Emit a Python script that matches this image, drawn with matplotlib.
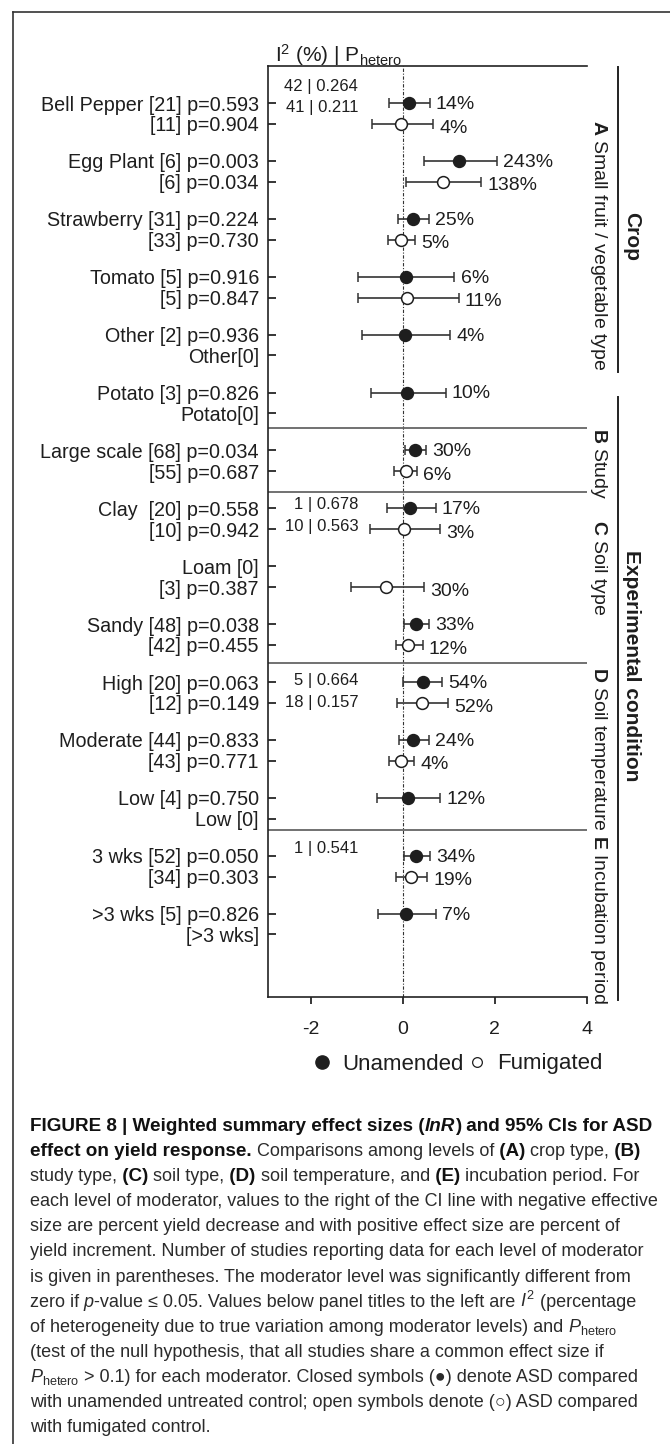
import matplotlib
matplotlib.use('Agg')
import matplotlib.pyplot as plt
from matplotlib.lines import Line2D
import numpy as np

plt.rcParams['font.family'] = ['Liberation Sans', 'DejaVu Sans']
plt.rcParams['mathtext.fontset'] = 'custom'
plt.rcParams['mathtext.rm'] = 'Liberation Sans'
plt.rcParams['mathtext.it'] = 'Liberation Sans:italic'
plt.rcParams['mathtext.bf'] = 'Liberation Sans:bold'
plt.rcParams['mathtext.default'] = 'regular'

# moderator rows, two per level (unamended first, fumigated second)
labels = ['Bell Pepper [21] p=0.593', '[11] p=0.904',
          'Egg Plant [6] p=0.003', '[6] p=0.034',
          'Strawberry [31] p=0.224', '[33] p=0.730',
          'Tomato [5] p=0.916', '[5] p=0.847',
          'Other [2] p=0.936', 'Other[0]',
          'Potato [3] p=0.826', 'Potato[0]',
          'Large scale [68] p=0.034', '[55] p=0.687',
          'Clay  [20] p=0.558', '[10] p=0.942',
          'Loam [0]', '[3] p=0.387',
          'Sandy [48] p=0.038', '[42] p=0.455',
          'High [20] p=0.063', '[12] p=0.149',
          'Moderate [44] p=0.833', '[43] p=0.771',
          'Low [4] p=0.750', 'Low [0]',
          '3 wks [52] p=0.050', '[34] p=0.303',
          '>3 wks [5] p=0.826', '[>3 wks]']

nan = np.nan
# ASD vs unamended control (lnR, 95% CI)
unam_mean = [0.13, 1.23, 0.22, 0.06, 0.04, 0.095, 0.26, 0.157, nan, 0.285,
             0.43, 0.215, 0.113, 0.29, 0.068]
unam_lo = [-0.31, 0.46, -0.10, -0.98, -0.89, -0.70, 0.04, -0.35, nan, 0.02,
           0.01, -0.08, -0.56, 0.02, -0.54]
unam_hi = [0.58, 2.05, 0.56, 1.12, 1.02, 0.93, 0.51, 0.71, nan, 0.56,
           0.85, 0.56, 0.81, 0.58, 0.72]
unam_pct = ['14%', '243%', '25%', '6%', '4%', '10%', '30%', '17%', '', '33%',
            '54%', '24%', '12%', '34%', '7%']

# ASD vs fumigated control
fum_mean = [-0.04, 0.87, -0.05, 0.10, nan, nan, 0.06, 0.03, -0.36, 0.11,
            0.42, -0.04, nan, 0.17, nan]
fum_lo = [-0.66, 0.07, -0.33, -0.97, nan, nan, -0.20, -0.72, -1.13, -0.16,
          -0.12, -0.30, nan, -0.15, nan]
fum_hi = [0.65, 1.70, 0.26, 1.21, nan, nan, 0.30, 0.81, 0.46, 0.43,
          0.98, 0.25, nan, 0.52, nan]
fum_pct = ['4%', '138%', '5%', '11%', '', '', '6%', '3%', '30%', '12%',
           '52%', '4%', '', '19%', '']

# I2 | P_hetero per moderator
het_text = ['42 | 0.264', '41 | 0.211', '1 | 0.678', '10 | 0.563',
            '5 | 0.664', '18 | 0.157', '1 | 0.541']

xticks = [-2, 0, 2, 4]

panel_titles = [r'$\mathbf{A}$ Small fruit / vegetable type', r'$\mathbf{B}$ Study',
                r'$\mathbf{C}$ Soil type', r'$\mathbf{D}$ Soil temperature',
                r'$\mathbf{E}$ Incubation period']
groups = ['Crop', 'Experimental condition']

caption = [
    [('FIGURE 8 | Weighted summary effect sizes (', 'b'), ('lnR', 'bi'), (')', 'b'),
     (' and 95% CIs for ASD', 'b')],
    [('effect on yield response.', 'b'), (' Comparisons among levels of', 'r'),
     (' (A)', 'b'), (' crop type,', 'r'), (' (B)', 'b')],
    [('study type,', 'r'), (' (C)', 'b'), (' soil type,', 'r'), (' (D)', 'b'),
     (' soil temperature, and', 'r'), (' (E)', 'b'), (' incubation period. For', 'r')],
    [('each level of moderator, values to the right of the CI line with negative effective', 'r')],
    [('size are percent yield decrease and with positive effect size are percent of', 'r')],
    [('yield increment. Number of studies reporting data for each level of moderator', 'r')],
    [('is given in parentheses. The moderator level was significantly different from', 'r')],
    [('zero if', 'r'), (' p', 'i'), ('-value \u2264 0.05. Values below panel titles to the left are', 'r'),
     (r' $\mathit{I}^{2}$', 'r'), (' (percentage', 'r')],
    [('of heterogeneity due to true variation among moderator levels) and', 'r'),
     (r' $\mathit{P}_{\mathrm{hetero}}$', 'r')],
    [('(test of the null hypothesis, that all studies share a common effect size if', 'r')],
    [(r'$\mathit{P}_{\mathrm{hetero}}$', 'r'),
     (' > 0.1) for each moderator. Closed symbols (\u25cf) denote ASD compared', 'r')],
    [('with unamended untreated control; open symbols denote (\u25cb) ASD compared', 'r')],
    [('with fumigated control.', 'r')],
]

W, H = 670, 1444
fig = plt.figure(figsize=(W / 100, H / 100), dpi=100)


def fx(x):
    return x / W


def fy(y):
    return 1 - y / H


ax = fig.add_axes([fx(268), fy(997), fx(587) - fx(268), fy(66) - fy(997)])

pair_gap = 0.36
ypos = []
for i in range(len(labels) // 2):
    ypos += [i, i + pair_gap]
ypos = np.array(ypos)
y_unam = ypos[0::2]
y_fum = ypos[1::2]

ink = '#1e1e1e'


def draw_series(mean, lo, hi, pct, yy, filled, dy):
    mean, lo, hi = np.array(mean), np.array(lo), np.array(hi)
    ok = ~np.isnan(mean)
    ax.errorbar(mean[ok], yy[ok], xerr=[mean[ok] - lo[ok], hi[ok] - mean[ok]],
                fmt='o', ms=8.5, mfc=ink if filled else 'white', mec=ink, mew=1.1,
                ecolor='#333333', elinewidth=1.2, capsize=3.8, capthick=1.1, zorder=3)
    for h, y, t in zip(hi, yy, pct):
        if t:
            ax.annotate(t, (h, y), xytext=(4.5, dy), textcoords='offset points',
                        ha='left', va='center', fontsize=14, color=ink)


draw_series(unam_mean, unam_lo, unam_hi, unam_pct, y_unam, True, -1)
draw_series(fum_mean, fum_lo, fum_hi, fum_pct, y_fum, False, -3)

# heterogeneity stats, left part of the plot
het_y = [-0.28, 0.07, 6.93, 7.32, 9.98, 10.35, 12.87]
for t, y in zip(het_text, het_y):
    ax.text(-0.97, y, t, ha='right', va='center', fontsize=12, color=ink)

ax.axvline(0, color='#333333', lw=0.8, ls=(0, (3, 1.5, 1, 1.5)), zorder=1)
for y in [5.62, 6.72, 9.67, 12.56]:
    ax.axhline(y, color='#666666', lw=1.3, zorder=1)

ax.set_xlim(-2.93, 4.0)
ax.set_ylim(15.44, -0.64)
ax.set_yticks(ypos)
ax.set_yticklabels(labels, fontsize=14.2, color=ink)
ax.set_xticks(xticks)
ax.set_xticklabels([str(v) for v in xticks], fontsize=14, color=ink)
ax.tick_params(axis='y', direction='in', length=6, width=1.1, pad=6.5)
ax.tick_params(axis='x', direction='out', length=5, width=1.1, pad=12)
ax.spines['right'].set_visible(False)
for s in ['left', 'bottom', 'top']:
    ax.spines[s].set_linewidth(1.2)
    ax.spines[s].set_color('#222222')

# header above the plot
fig.text(fx(338), fy(55), r'I$^{2}$ (%) | P$_{\mathrm{hetero}}$', ha='center',
         va='center', fontsize=15, color=ink)

# right-hand panel titles and group brackets
for t, top in zip(panel_titles, [120, 428, 520, 667, 835]):
    fig.text(fx(599), fy(top), t, rotation=270, ha='center', va='top',
             fontsize=14, color=ink)
for g, cy in zip(groups, [237, 666]):
    fig.text(fx(632), fy(cy), g, rotation=270, ha='center', va='center',
             fontsize=15, fontweight='bold', color=ink)
for y0, y1 in [(67, 372), (397, 1000)]:
    fig.add_artist(Line2D([fx(618)] * 2, [fy(y0), fy(y1)], color='#222222', lw=1.4))

# legend
h1 = Line2D([], [], ls='none', marker='o', ms=9.5, mfc=ink, mec=ink)
h2 = Line2D([], [], ls='none', marker='o', ms=7, mfc='white', mec=ink, mew=0.9)
fig.legend([h1, h2], ['Unamended', 'Fumigated'], loc='center',
           bbox_to_anchor=(fx(458), fy(1064)), ncol=2, frameon=False, fontsize=16,
           handlelength=0.8, handletextpad=0.5, columnspacing=0.2, borderpad=0,
           labelcolor=ink)

# frame around figure panel
fig.add_artist(Line2D([fx(13), 1], [fy(12), fy(12)], color='#333333', lw=1.2))
fig.add_artist(Line2D([fx(13), fx(13)], [fy(12), 0], color='#333333', lw=1.2))

# caption
renderer = fig.canvas.get_renderer()
for k, segs in enumerate(caption):
    x = fx(30)
    yb = fy(1131 + 25.1 * k)
    for s, st in segs:
        kw = dict(fontsize=13, ha='left', va='baseline', color='#2b2b2b')
        if 'b' in st:
            kw['fontweight'] = 'bold'
            kw['fontsize'] = 13.6
            kw['color'] = '#111111'
        if 'i' in st:
            kw['fontstyle'] = 'italic'
        t = fig.text(x, yb, s, **kw)
        x += t.get_window_extent(renderer).width / W

fig.savefig('out.png', dpi=100)
